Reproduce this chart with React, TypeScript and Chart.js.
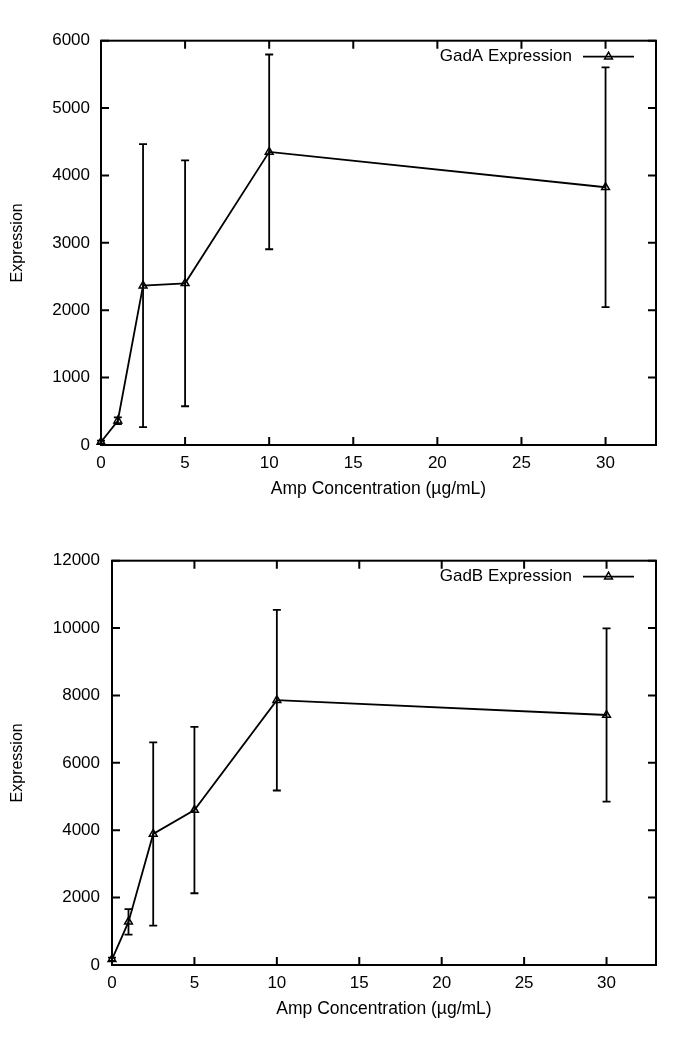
import React, { useEffect, useRef } from "react";
import { Chart, registerables } from "chart.js";

Chart.register(...registerables);

const concentrations = [0, 1, 2.5, 5, 10, 30];
const gadAMeans = [45, 360, 2365, 2400, 4350, 3825];
const gadAErrors = [20, 50, 2100, 1825, 1445, 1780];
const gadBMeans = [170, 1280, 3890, 4600, 7860, 7420];
const gadBErrors = [50, 380, 2720, 2470, 2680, 2570];
const xTickValues = [0, 5, 10, 15, 20, 25, 30];
const gadATicks = { min: 0, max: 6000, step: 1000 };
const gadBTicks = { min: 0, max: 12000, step: 2000 };

const FONT = "'Liberation Sans', Arial, Helvetica, sans-serif";

const gnuplotPlugin = {
  id: "gnuplotStyle",
  beforeDatasetsDraw(chart: any) {
    const { ctx } = chart;
    const xs = chart.scales.x;
    const ys = chart.scales.y;
    chart.data.datasets.forEach((ds: any) => {
      const errs = ds.errors;
      if (!errs) return;
      ctx.save();
      ctx.strokeStyle = "#000";
      ctx.lineWidth = 1.8;
      ds.data.forEach((p: any, i: number) => {
        const x = xs.getPixelForValue(p.x);
        const yTop = ys.getPixelForValue(p.y + errs[i]);
        const yBot = ys.getPixelForValue(p.y - errs[i]);
        ctx.beginPath();
        ctx.moveTo(x, yTop);
        ctx.lineTo(x, yBot);
        ctx.moveTo(x - 4, yTop);
        ctx.lineTo(x + 4, yTop);
        ctx.moveTo(x - 4, yBot);
        ctx.lineTo(x + 4, yBot);
        ctx.stroke();
      });
      ctx.restore();
    });
  },
  afterDraw(chart: any) {
    const { ctx, chartArea: a } = chart;
    const xs = chart.scales.x;
    const ys = chart.scales.y;
    const tl = 8;
    ctx.save();
    ctx.strokeStyle = "#000";
    ctx.lineWidth = 2;
    ctx.strokeRect(a.left, a.top, a.right - a.left, a.bottom - a.top);
    ctx.beginPath();
    xs.ticks.forEach((t: any) => {
      const px = xs.getPixelForValue(t.value);
      ctx.moveTo(px, a.bottom);
      ctx.lineTo(px, a.bottom - tl);
      ctx.moveTo(px, a.top);
      ctx.lineTo(px, a.top + tl);
    });
    ys.ticks.forEach((t: any) => {
      const py = ys.getPixelForValue(t.value);
      ctx.moveTo(a.left, py);
      ctx.lineTo(a.left + tl, py);
      ctx.moveTo(a.right, py);
      ctx.lineTo(a.right - tl, py);
    });
    ctx.stroke();

    // legend (inside plot, top right)
    const ds = chart.data.datasets[0];
    const ly = a.top + 16;
    const lineStart = a.right - 73;
    const lineEnd = a.right - 22;
    ctx.lineWidth = 1.8;
    ctx.beginPath();
    ctx.moveTo(lineStart, ly);
    ctx.lineTo(lineEnd, ly);
    ctx.stroke();
    const cx = (lineStart + lineEnd) / 2;
    const r = 4.5;
    ctx.lineWidth = 1.5;
    ctx.beginPath();
    ctx.moveTo(cx, ly - r);
    ctx.lineTo(cx + r * Math.sin((2 * Math.PI) / 3), ly - r * Math.cos((2 * Math.PI) / 3));
    ctx.lineTo(cx + r * Math.sin((4 * Math.PI) / 3), ly - r * Math.cos((4 * Math.PI) / 3));
    ctx.closePath();
    ctx.stroke();
    ctx.fillStyle = "#000";
    ctx.font = `17px ${FONT}`;
    ctx.textAlign = "right";
    ctx.textBaseline = "middle";
    ctx.fillText(ds.label, a.right - 84, ly);
    ctx.restore();
  },
};

function makeConfig(
  label: string,
  means: number[],
  errors: number[],
  yRange: { min: number; max: number; step: number },
  yWidth: number,
  yPad: number,
  bottomPad: number
): any {
  return {
    type: "line",
    data: {
      datasets: [
        {
          label,
          data: concentrations.map((x, i) => ({ x, y: means[i] })),
          errors,
          borderColor: "#000",
          borderWidth: 1.8,
          pointStyle: "triangle",
          pointRadius: 4.5,
          pointBorderWidth: 1.5,
          pointBackgroundColor: "rgba(0,0,0,0)",
          pointBorderColor: "#000",
          fill: false,
          tension: 0,
          clip: false,
        },
      ],
    },
    options: {
      responsive: false,
      animation: false,
      layout: { padding: { left: 0, top: 40.7, right: 29, bottom: bottomPad } },
      plugins: { legend: { display: false }, tooltip: { enabled: false } },
      scales: {
        x: {
          type: "linear",
          min: 0,
          max: 33,
          ticks: {
            stepSize: 5,
            padding: 8,
            color: "#000",
            maxRotation: 0,
            font: { family: FONT, size: 17 },
            callback: (v: any) => String(v),
          },
          afterBuildTicks: (s: any) => {
            s.ticks = s.ticks.filter((t: any) => xTickValues.includes(t.value));
          },
          afterFit: (s: any) => {
            s.height = 54.2;
          },
          grid: { display: false, drawTicks: false },
          border: { display: false },
          title: {
            display: true,
            text: "Amp Concentration (µg/mL)",
            color: "#000",
            font: { family: FONT, size: 17.5 },
            padding: 0,
          },
        },
        y: {
          type: "linear",
          min: yRange.min,
          max: yRange.max,
          ticks: {
            stepSize: yRange.step,
            padding: yPad,
            color: "#000",
            font: { family: FONT, size: 17 },
            callback: (v: any) => String(v),
          },
          afterFit: (s: any) => {
            s.width = yWidth;
          },
          grid: { display: false, drawTicks: false },
          border: { display: false },
          title: {
            display: true,
            text: "Expression",
            color: "#000",
            font: { family: FONT, size: 16 },
            padding: { top: 8.4, bottom: 0 },
          },
        },
      },
    },
    plugins: [gnuplotPlugin],
  };
}

export default function App() {
  const refA = useRef<HTMLCanvasElement>(null);
  const refB = useRef<HTMLCanvasElement>(null);

  useEffect(() => {
    const cA = new Chart(
      refA.current as HTMLCanvasElement,
      makeConfig("GadA Expression", gadAMeans, gadAErrors, gadATicks, 101, 11, 20.8)
    );
    const cB = new Chart(
      refB.current as HTMLCanvasElement,
      makeConfig("GadB Expression", gadBMeans, gadBErrors, gadBTicks, 112, 12, 24.8)
    );
    return () => {
      cA.destroy();
      cB.destroy();
    };
  }, []);

  return (
    <div
      style={{
        position: "absolute",
        left: 0,
        top: 0,
        width: 685,
        height: 1044,
        background: "#fff",
      }}
    >
      <canvas
        ref={refA}
        width={685}
        height={520}
        style={{ position: "absolute", left: 0, top: 0, display: "block" }}
      />
      <canvas
        ref={refB}
        width={685}
        height={524}
        style={{ position: "absolute", left: 0, top: 520, display: "block" }}
      />
    </div>
  );
}
